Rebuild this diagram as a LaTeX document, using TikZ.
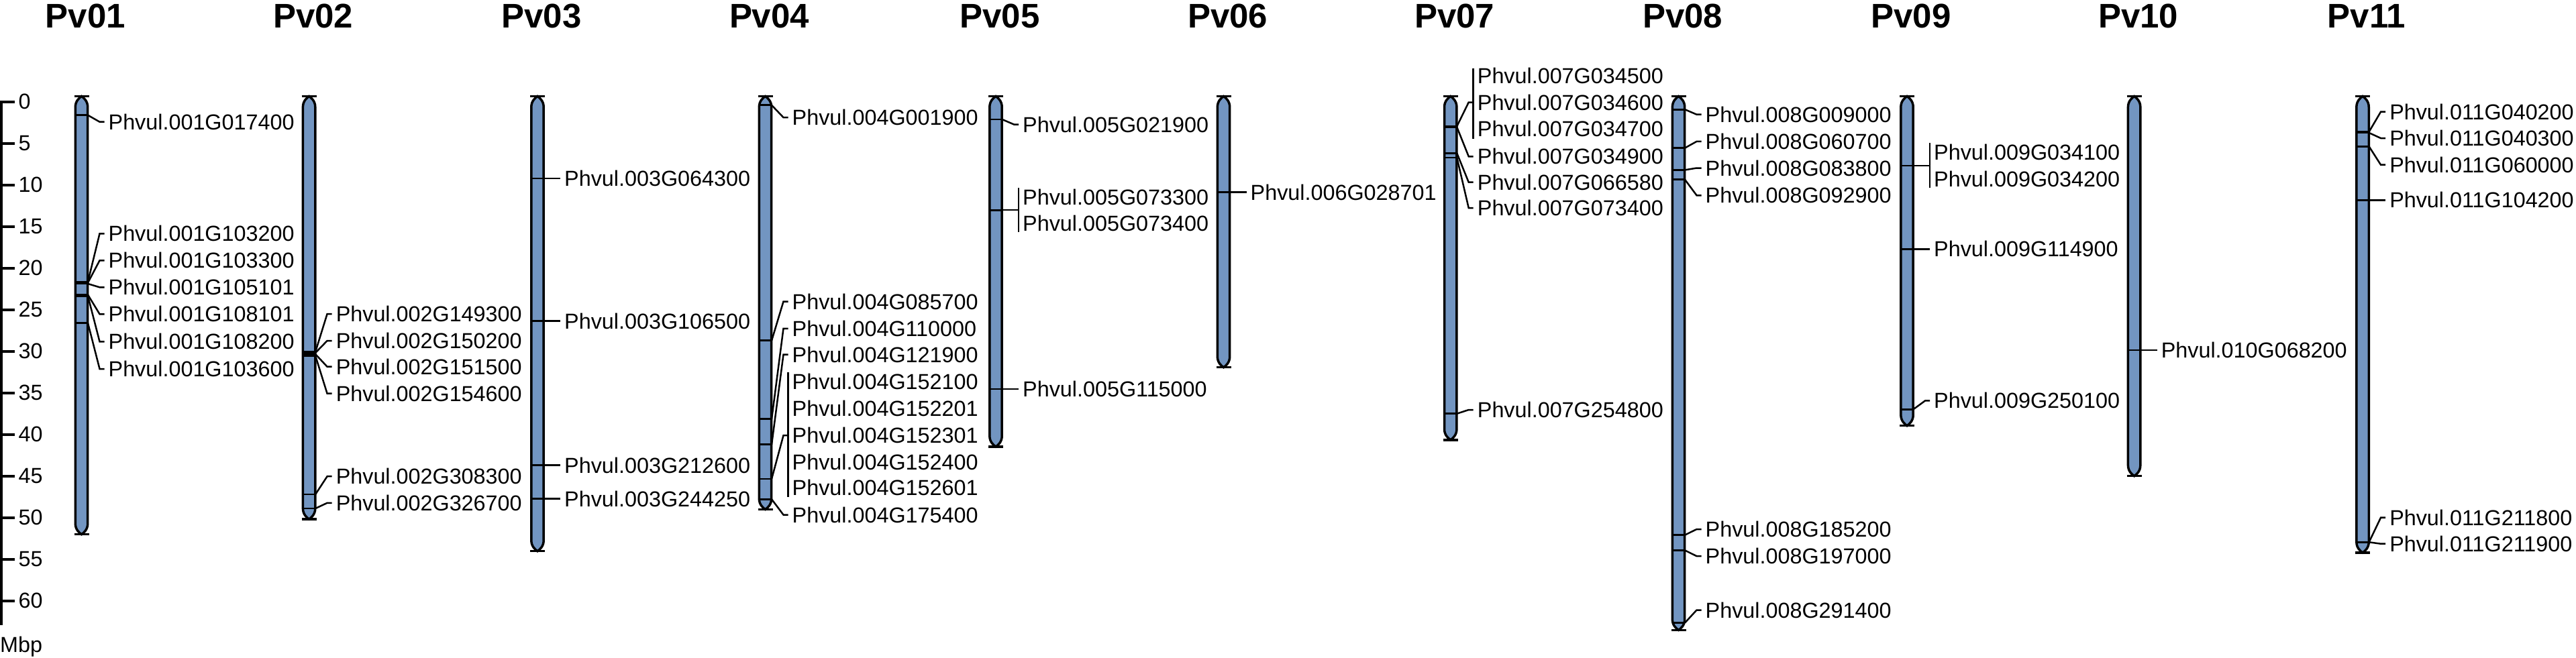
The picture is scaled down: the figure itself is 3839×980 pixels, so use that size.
\documentclass[tikz,border=0pt]{standalone}
\usepackage{fontspec}
\setmainfont{Liberation Sans}
\definecolor{chrblue}{RGB}{114,149,193}
\tikzset{
 chrfill/.style={fill=chrblue},
 chrline/.style={draw=black,line width=0.35mm},
 capbar/.style={draw=black,line width=0.35mm},
 mkline/.style={draw=black,line width=0.28mm},
 conn/.style={draw=black,line width=0.25mm},
 axisline/.style={draw=black,line width=0.36mm},
 lab/.style={anchor=west,inner sep=0.55mm,font=\fontsize{9.2}{11}\selectfont},
 ttl/.style={anchor=base,inner sep=0pt,font=\fontsize{14.5}{17}\selectfont\bfseries},
}
\newcommand\chrpath[2]{({#1-9.2},159.5) .. controls ({#1-9.2},150.5) and ({#1-3},145.5) .. ({#1},143.5) .. controls ({#1+3},145.5) and ({#1+9.2},150.5) .. ({#1+9.2},159.5) -- ({#1+9.2},{#2-16}) .. controls ({#1+9.2},{#2-7}) and ({#1+3},{#2-2}) .. ({#1},{#2}) .. controls ({#1-3},{#2-2}) and ({#1-9.2},{#2-7}) .. ({#1-9.2},{#2-16}) -- cycle}
\newcommand\chromosome[3]{%
 \fill[chrfill] \chrpath{#1}{#2};
 \begin{scope}
 \clip \chrpath{#1}{#2};
 \foreach \m in {#3} {\draw[mkline] ({#1-12},\m) -- ({#1+12},\m);}
 \end{scope}
 \draw[chrline] \chrpath{#1}{#2};
 \draw[capbar] ({#1-11},143.5) -- ({#1+11},143.5);
 \draw[capbar] ({#1-11},#2) -- ({#1+11},#2);}
\newcommand\gdiag[5]{%
 \coordinate (#1m) at ({#2+9.5},#3);
 \node[lab] (#1) at ({#2+34},#4) {#5};
 \draw[conn] (#1m) -- ([xshift=-0.7mm]#1.west) -- (#1.west);}
\newcommand\gbracket[6]{%
 \coordinate (#1m) at ({#2+9.5},#3);
 \coordinate (#1t) at ({#2+34},#4);
 \coordinate (#1b) at ({#2+34},#5);
 \coordinate (#1c) at ({#2+34},#6);
 \draw[conn] (#1t) -- (#1b);
 \draw[conn] (#1m) -- ([xshift=-0.7mm]#1c) -- (#1c);}
\newcommand\glab[4]{\node[lab] (#1) at ({#2+34},#3) {#4};}
\begin{document}
\begin{tikzpicture}[x=0.1mm,y=-0.1mm]
\useasboundingbox (0,0) rectangle (3839,980);
% scale
\draw[axisline] (21.5,151.7) -- (2,151.7) -- (2,931.7);
\foreach \t in {5,10,...,60} {\draw[axisline] (2,{151.7+12.4*\t}) -- (21.5,{151.7+12.4*\t});}
\foreach \t in {0,5,...,60} {\node[lab] (tk\t) at (21.5,{151.7+12.4*\t}) {\t};}
\node[lab] (mbp) at (-6,964) {Mbp};
% titles
\foreach \k/\xx in {01/121.5,02/460.6,03/801,04/1140.5,05/1484,06/1823.5,07/2161.7,08/2501.5,09/2842,10/3180.6,11/3521}
 {\node[ttl] (t\k) at ({\xx+6},41.7) {Pv\k};}
% Pv01
\chromosome{121.5}{796.7}{171.7,420,421.5,423,439.5,441.5,481.7}
\gdiag{a1}{121.5}{171.7}{181.7}{Phvul.001G017400}
\gdiag{a2}{121.5}{420}{348.3}{Phvul.001G103200}
\gdiag{a3}{121.5}{421.5}{388.3}{Phvul.001G103300}
\gdiag{a4}{121.5}{423}{428.3}{Phvul.001G105101}
\gdiag{a5}{121.5}{439.5}{468.3}{Phvul.001G108101}
\gdiag{a6}{121.5}{441.5}{509.3}{Phvul.001G108200}
\gdiag{a7}{121.5}{481.7}{550}{Phvul.001G103600}
% Pv02
\chromosome{460.6}{774}{524.5,526,528,530.5,737,758}
\gdiag{b1}{460.6}{524.5}{468}{Phvul.002G149300}
\gdiag{b2}{460.6}{526}{508}{Phvul.002G150200}
\gdiag{b3}{460.6}{528}{546.7}{Phvul.002G151500}
\gdiag{b4}{460.6}{530.5}{586.7}{Phvul.002G154600}
\gdiag{b5}{460.6}{737}{710.2}{Phvul.002G308300}
\gdiag{b6}{460.6}{758}{749.8}{Phvul.002G326700}
% Pv03
\chromosome{801}{821.7}{266,478.7,693.5,743.5}
\gdiag{c1}{801}{266}{266}{Phvul.003G064300}
\gdiag{c2}{801}{478.7}{478.7}{Phvul.003G106500}
\gdiag{c3}{801}{693.5}{693.5}{Phvul.003G212600}
\gdiag{c4}{801}{743.5}{743.5}{Phvul.003G244250}
% Pv04
\chromosome{1140.5}{759.5}{156.8,507.7,624.6,662.6,713.9,744.3}
\gdiag{d1}{1140.5}{156.8}{175.1}{Phvul.004G001900}
\gdiag{d2}{1140.5}{507.7}{449.6}{Phvul.004G085700}
\gdiag{d3}{1140.5}{624.6}{489.8}{Phvul.004G110000}
\gdiag{d4}{1140.5}{662.6}{528.7}{Phvul.004G121900}
\gbracket{d5}{1140.5}{713.9}{555.4}{740.7}{649.2}
\glab{d5a}{1140.5}{568.8}{Phvul.004G152100}
\glab{d5b}{1140.5}{609}{Phvul.004G152201}
\glab{d5c}{1140.5}{649.2}{Phvul.004G152301}
\glab{d5d}{1140.5}{688.5}{Phvul.004G152400}
\glab{d5e}{1140.5}{727.3}{Phvul.004G152601}
\gdiag{d6}{1140.5}{744.3}{767.5}{Phvul.004G175400}
% Pv05
\chromosome{1484}{666}{178,313.2,580}
\gdiag{e1}{1484}{178}{185.5}{Phvul.005G021900}
\gbracket{e2}{1484}{313.2}{280}{346}{313.2}
\glab{e2a}{1484}{293.5}{Phvul.005G073300}
\glab{e2b}{1484}{333.2}{Phvul.005G073400}
\gdiag{e3}{1484}{580}{580}{Phvul.005G115000}
% Pv06
\chromosome{1823.5}{547.7}{286.7}
\gdiag{f1}{1823.5}{286.7}{286.7}{Phvul.006G028701}
% Pv07
\chromosome{2161.7}{655.8}{188.3,189.5,228.3,235,616.7}
\gbracket{g1}{2161.7}{188.3}{101.7}{206.7}{152.5}
\glab{g1a}{2161.7}{113.3}{Phvul.007G034500}
\glab{g1b}{2161.7}{152.5}{Phvul.007G034600}
\glab{g1c}{2161.7}{191.7}{Phvul.007G034700}
\gdiag{g2}{2161.7}{189.5}{233.3}{Phvul.007G034900}
\gdiag{g3}{2161.7}{228.3}{271.7}{Phvul.007G066580}
\gdiag{g4}{2161.7}{235}{310}{Phvul.007G073400}
\gdiag{g5}{2161.7}{616.7}{611}{Phvul.007G254800}
% Pv08
\chromosome{2501.5}{939.4}{163.2,220.6,253.4,267.7,797.6,820.5,928.5}
\gdiag{h1}{2501.5}{163.2}{170.7}{Phvul.008G009000}
\gdiag{h2}{2501.5}{220.6}{210.9}{Phvul.008G060700}
\gdiag{h3}{2501.5}{253.4}{250.5}{Phvul.008G083800}
\gdiag{h4}{2501.5}{267.7}{291.3}{Phvul.008G092900}
\gdiag{h5}{2501.5}{797.6}{789}{Phvul.008G185200}
\gdiag{h6}{2501.5}{820.5}{829.1}{Phvul.008G197000}
\gdiag{h7}{2501.5}{928.5}{909.5}{Phvul.008G291400}
% Pv09
\chromosome{2842}{634.7}{246.9,371.4,610.2}
\gbracket{i1}{2842}{246.9}{213.3}{279.6}{246.9}
\glab{i1a}{2842}{226.5}{Phvul.009G034100}
\glab{i1b}{2842}{267.3}{Phvul.009G034200}
\gdiag{i2}{2842}{371.4}{371.4}{Phvul.009G114900}
\gdiag{i3}{2842}{610.2}{597.4}{Phvul.009G250100}
% Pv10
\chromosome{3180.6}{709.7}{521.9}
\gdiag{j1}{3180.6}{521.9}{521.9}{Phvul.010G068200}
% Pv11
\chromosome{3521}{824}{196.5,198,218.3,298.3,808.3}
\gdiag{k1}{3521}{196.5}{166.7}{Phvul.011G040200}
\gdiag{k2}{3521}{198}{206}{Phvul.011G040300}
\gdiag{k3}{3521}{218.3}{245.7}{Phvul.011G060000}
\gdiag{k4}{3521}{298.3}{298.3}{Phvul.011G104200}
\gdiag{k5}{3521}{808.3}{771.7}{Phvul.011G211800}
\gdiag{k6}{3521}{808.3}{810.7}{Phvul.011G211900}
\end{tikzpicture}
\end{document}
